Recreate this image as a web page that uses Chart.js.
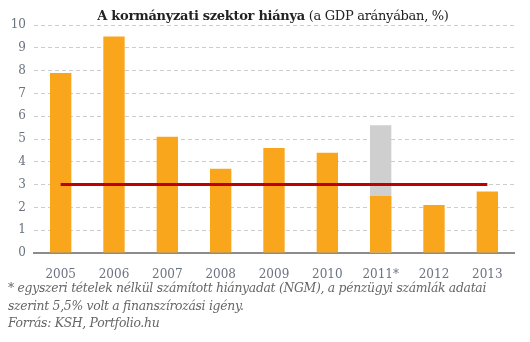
<!DOCTYPE html>
<html>
<head>
<meta charset="utf-8">
<script src="https://cdn.jsdelivr.net/npm/chart.js@4"></script>
<style>
  body { margin: 0; background: #fff; }
  #wrap { position: relative; width: 530px; height: 342px; }
  #title { position: absolute; top: 8px; left: 0; width: 546px; text-align: center;
    font-family: 'DejaVu Serif', serif; font-size: 13px; color: #222; letter-spacing: -0.3px; }
  #title b { font-weight: bold; }
  #chart { position: absolute; top: 0; left: 0; }
  #notes { position: absolute; top: 279px; left: 8px; width: 520px;
    font-family: 'DejaVu Serif', serif; font-style: italic; font-size: 12.4px;
    line-height: 17.5px; color: #666; letter-spacing: -0.3px; }
</style>
</head>
<body>
<div id="wrap">
  <canvas id="chart" width="530" height="280"></canvas>
  <div id="title"><b>A kormányzati szektor hiánya</b> (a GDP arányában, %)</div>
  <div id="notes">* egyszeri tételek nélkül számított hiányadat (NGM), a pénzügyi számlák adatai<br>szerint 5,5% volt a finanszírozási igény.<br>Forrás: KSH, Portfolio.hu</div>
</div>
<script>
const years = ['2005', '2006', '2007', '2008', '2009', '2010', '2011*', '2012', '2013'];
const deficit = [7.9, 9.5, 5.1, 3.7, 4.6, 4.4, 2.5, 2.1, 2.7];
const financingNeed = [null, null, null, null, null, null, 5.6, null, null];
const limit = [3, 3, 3, 3, 3, 3, 3, 3, 3];

const tickFont = { family: 'DejaVu Serif', size: 12 };

new Chart(document.getElementById('chart').getContext('2d'), {
  data: {
    labels: years,
    datasets: [
      {
        type: 'line',
        data: limit,
        borderColor: '#c00000',
        borderWidth: 3,
        pointRadius: 0,
        order: 0
      },
      {
        type: 'bar',
        data: deficit,
        backgroundColor: '#f9a61c',
        barPercentage: 0.8,
        categoryPercentage: 0.5,
        order: 1
      },
      {
        type: 'bar',
        data: financingNeed,
        backgroundColor: '#cfcfcf',
        barPercentage: 0.8,
        categoryPercentage: 0.5,
        order: 2
      }
    ]
  },
  options: {
    responsive: false,
    animation: false,
    layout: { padding: { top: 25, right: 16, left: 0, bottom: 0 } },
    scales: {
      x: {
        stacked: true,
        grid: { display: false },
        border: { display: true, color: '#8c8c8c', width: 2 },
        ticks: { color: '#6b7280', font: tickFont, padding: 7 },
        afterFit: scale => { scale.height = 27; }
      },
      y: {
        min: 0,
        max: 10,
        grid: { color: '#cccccc', drawTicks: false, lineWidth: 1 },
        border: { display: false, dash: [4, 3] },
        ticks: { stepSize: 1, color: '#6b7280', font: tickFont, padding: 8 },
        afterFit: scale => { scale.width = 34; }
      }
    },
    plugins: {
      legend: { display: false },
      tooltip: { enabled: false }
    }
  }
});
</script>
</body>
</html>
